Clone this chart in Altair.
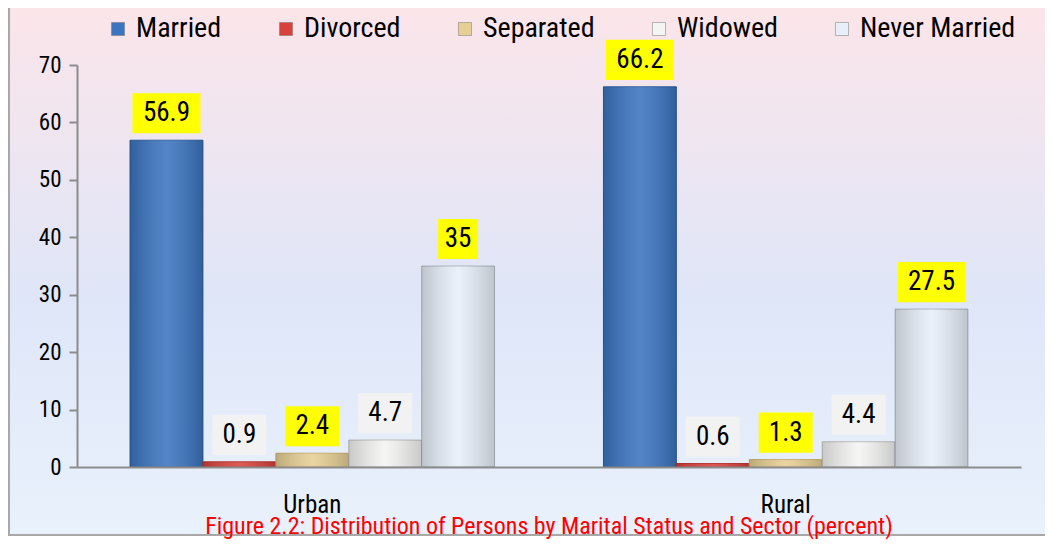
import altair as alt
import pandas as pd

sectors = ["Urban", "Rural"]
statuses = ["Married", "Divorced", "Separated", "Widowed", "Never Married"]
urban_values = [56.9, 0.9, 2.4, 4.7, 35]
rural_values = [66.2, 0.6, 1.3, 4.4, 27.5]
yellow_statuses = ["Married", "Separated", "Never Married"]
title_text = "Figure 2.2: Distribution of Persons by Marital Status and Sector (percent)"

rows = []
for sector, vals in zip(sectors, [urban_values, rural_values]):
    for st, v in zip(statuses, vals):
        rows.append({"sector": sector, "status": st, "value": v,
                     "label": f"{v:g}",
                     "hl": "yes" if st in yellow_statuses else "no"})
df = pd.DataFrame(rows)

FONT = "Liberation Sans Narrow, Roboto Condensed, Liberation Sans, sans-serif"
W, H = 944, 402

colors = ["#3b74c0", "#d9413c", "#e6cf94", "#f4f4f2", "#e8eff9"]
strokes = ["#2c5a98", "#b5302c", "#c9ad6a", "#b9b9b9", "#a9b3bf"]

x = alt.X("sector:N", sort=sectors,
          scale=alt.Scale(paddingInner=0.23, paddingOuter=0.112),
          axis=alt.Axis(title=None, labelAngle=0, labelFontSize=25, labelFont=FONT,
                        labelColor="black", labelPadding=25, ticks=False,
                        domainColor="#8c8c8c", domainWidth=2, zindex=1))
xo = alt.XOffset("status:N", sort=statuses, scale=alt.Scale(paddingInner=0, paddingOuter=0))
y = alt.Y("value:Q", scale=alt.Scale(domain=[0, 70], nice=False),
          axis=alt.Axis(title=None, values=list(range(0, 71, 10)), labelFontSize=23,
                        labelFont=FONT, labelColor="black", tickColor="#8c8c8c",
                        domainColor="#8c8c8c", domainWidth=2, tickSize=8, tickWidth=2,
                        labelPadding=8, grid=False, zindex=1))

base = alt.Chart(df)

bg = base.mark_rect(
    stroke="#a8a8a8", strokeWidth=2,
    color=alt.LinearGradient(gradient="linear", x1=0, x2=0, y1=0, y2=1, stops=[
        alt.GradientStop(color="#fbe5e9", offset=0),
        alt.GradientStop(color="#dfe6f8", offset=0.55),
        alt.GradientStop(color="#e9f1fc", offset=1)])
).encode(x=alt.value(-68), x2=alt.value(970), y=alt.value(-58), y2=alt.value(470))

bars = base.mark_bar(strokeWidth=1).encode(
    x=x, xOffset=xo, y=y,
    color=alt.Color("status:N", sort=statuses,
                    scale=alt.Scale(domain=statuses, range=colors),
                    legend=alt.Legend(title=None, orient="none", legendX=27, legendY=-50,
                                      direction="horizontal", symbolType="square",
                                      symbolSize=170, labelFontSize=28, labelFont=FONT,
                                      labelColor="black", columnPadding=50, labelLimit=0,
                                      labelOffset=4,
                                      symbolStrokeColor="#777", symbolStrokeWidth=0.5)),
    stroke=alt.Stroke("status:N", sort=statuses,
                      scale=alt.Scale(domain=statuses, range=strokes), legend=None),
)

shine = base.mark_bar(
    color=alt.LinearGradient(gradient="linear", x1=0, x2=1, y1=0, y2=0, stops=[
        alt.GradientStop(color="rgba(0,0,0,0.18)", offset=0),
        alt.GradientStop(color="rgba(255,255,255,0.12)", offset=0.5),
        alt.GradientStop(color="rgba(0,0,0,0.18)", offset=1)])
).encode(x=x, xOffset=xo, y=y)

boxes = base.transform_calculate(
    lo="datum.value + 1.2", hi="datum.value + 8.2",
    w="length(datum.label) * 14 + 12"
).mark_bar().encode(
    x=x, xOffset=xo,
    y=alt.Y("lo:Q"), y2="hi:Q",
    size=alt.Size("w:Q", scale=None, legend=None),
    color=alt.condition("datum.hl == 'yes'", alt.value("#ffff00"), alt.value("#f2f2f2")),
)

labels = base.mark_text(fontSize=27, font=FONT, color="black", baseline="middle",
                        dy=-27).encode(x=x, xOffset=xo, y=y, text="label:N")

chart = alt.layer(bg, bars, shine, boxes, labels).resolve_scale(
    color="independent"
).properties(
    width=W, height=H,
    padding={"left": 69, "top": 57, "right": 24, "bottom": 76},
    autosize=alt.AutoSizeParams(type="none"),
    title=alt.TitleParams(title_text, orient="bottom", anchor="middle", fontSize=24,
                          font=FONT, fontWeight="normal", color="#ff0000", offset=-21),
).configure_view(stroke=None).configure(background="white")

chart.save("out.html", embed_options={"renderer": "svg", "actions": False})
